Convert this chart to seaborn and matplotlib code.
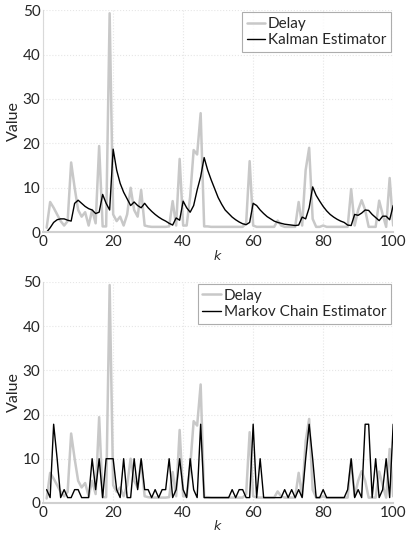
import matplotlib
matplotlib.use("Agg")
import matplotlib.pyplot as plt
import numpy as np
import pandas as pd
import seaborn as sns

k = np.arange(1, 101)

delay = [
    1.0, 6.8, 5.5, 4.0, 2.5, 1.5, 2.5, 15.7, 10.0, 5.0,
    3.5, 4.5, 1.5, 5.0, 2.0, 19.4, 1.3, 1.3, 49.3, 4.0,
    2.5, 3.5, 1.5, 4.0, 10.0, 5.0, 3.5, 9.5, 1.5, 1.3,
    1.2, 1.2, 1.2, 1.2, 1.2, 1.3, 7.0, 1.5, 16.5, 1.5,
    1.5, 8.0, 18.5, 17.5, 26.8, 1.3, 1.3, 1.2, 1.2, 1.2,
    1.2, 1.2, 1.2, 1.2, 1.2, 1.2, 1.2, 2.0, 16.0, 1.5,
    1.2, 1.2, 1.2, 1.2, 1.2, 1.2, 2.6, 1.5, 1.2, 1.2,
    1.2, 1.2, 6.8, 1.5, 14.0, 19.0, 3.0, 1.2, 1.2, 1.5,
    1.2, 1.2, 1.2, 1.2, 1.2, 1.2, 1.2, 9.7, 1.5, 5.0,
    7.2, 5.0, 1.2, 1.2, 1.2, 7.1, 4.0, 1.2, 12.2, 1.5,
]

kalman = [
    0.0, 1.0, 2.2, 2.8, 3.0, 3.0, 2.7, 2.5, 6.5, 7.2,
    6.5, 5.8, 5.3, 5.0, 4.2, 4.5, 8.5, 6.5, 5.0, 18.7,
    14.0, 11.0, 9.0, 7.5, 6.0, 6.8, 6.0, 5.5, 6.5, 5.5,
    4.7, 4.0, 3.4, 2.9, 2.5, 2.0, 1.6, 3.2, 2.7, 7.0,
    5.5, 4.5, 6.0, 9.5, 12.5, 16.8, 14.0, 11.8, 9.8, 7.8,
    6.3, 5.0, 4.2, 3.4, 2.8, 2.3, 1.9, 1.7, 2.2, 6.5,
    6.0, 5.0, 4.2, 3.5, 3.0, 2.5, 2.2, 2.0, 1.8, 1.7,
    1.6, 1.5, 1.6, 3.4, 3.0, 5.5, 10.2, 8.3, 7.0, 5.8,
    4.8, 4.0, 3.4, 2.9, 2.5, 2.2, 1.6, 1.5, 4.0, 3.8,
    4.3, 5.0, 4.9, 4.0, 3.3, 2.6, 3.6, 3.6, 2.8, 6.0,
]

markov = [
    3.0, 1.2, 17.8, 10.0, 1.2, 3.0, 1.2, 1.2, 3.0, 3.0,
    1.2, 1.2, 1.2, 10.0, 3.0, 10.0, 1.2, 10.0, 10.0, 10.0,
    3.0, 1.2, 10.0, 1.2, 1.2, 10.0, 3.0, 10.0, 3.0, 3.0,
    1.2, 3.0, 1.2, 3.0, 3.0, 10.0, 1.2, 3.0, 10.0, 3.0,
    1.2, 10.0, 3.0, 1.2, 17.8, 1.2, 1.2, 1.2, 1.2, 1.2,
    1.2, 1.2, 1.2, 3.0, 1.2, 3.0, 3.0, 1.2, 1.2, 17.8,
    1.2, 10.0, 1.2, 1.2, 1.2, 1.2, 1.2, 1.2, 3.0, 1.2,
    3.0, 1.2, 3.0, 1.2, 10.0, 17.8, 10.0, 1.2, 1.2, 3.0,
    1.2, 1.2, 1.2, 1.2, 1.2, 1.2, 3.0, 10.0, 1.2, 3.0,
    1.2, 17.8, 17.8, 1.2, 10.0, 1.2, 3.0, 10.0, 1.2, 17.8,
]

sns.set_style("whitegrid")
plt.rcParams['font.family'] = ['Lato', 'DejaVu Sans']

fig = plt.figure(figsize=(4.07, 5.35), dpi=100)
ax1 = fig.add_axes([0.106, 0.566, 0.860, 0.415])
ax2 = fig.add_axes([0.106, 0.060, 0.860, 0.413])

gray = "#c8c8c8"

for ax, est, name in [(ax1, kalman, "Kalman Estimator"), (ax2, markov, "Markov Chain Estimator")]:
    df = pd.DataFrame({"k": k, "Delay": delay, name: est})
    sns.lineplot(data=df, x="k", y="Delay", ax=ax, color=gray, linewidth=1.8, label="Delay")
    sns.lineplot(data=df, x="k", y=name, ax=ax, color="black", linewidth=1.0, label=name)
    ax.set_xlim(0, 100)
    ax.set_ylim(0, 50)
    ax.set_xticks(range(0, 101, 20))
    ax.set_yticks(range(0, 51, 10))
    ax.grid(True, color="#e6e6e6", linestyle=":", linewidth=0.8)
    for side in ["top", "right"]:
        ax.spines[side].set_visible(False)
    ax.spines["left"].set_color("#d9d9d9")
    ax.spines["bottom"].set_color("#d0d0d0")
    ax.spines["bottom"].set_linewidth(1.5)
    ax.tick_params(axis="both", length=0, labelsize=11, pad=2)
    ax.set_ylabel("Value", fontsize=11.5, labelpad=1)
    ax.set_xlabel("$k$", fontsize=9, labelpad=-1)
    leg = ax.legend(loc="upper right", fontsize=11, frameon=True, fancybox=False,
                    handlelength=1.2, handletextpad=0.2, borderpad=0.3, labelspacing=0.15,
                    borderaxespad=0.15)
    leg.get_frame().set_edgecolor("#999999")
    leg.get_frame().set_linewidth(0.8)

fig.savefig("out.png", dpi=100)
plt.close(fig)
